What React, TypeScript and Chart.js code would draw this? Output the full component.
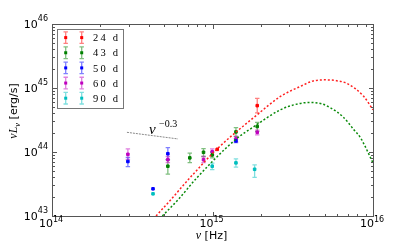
import React, { useEffect, useRef } from 'react';
import { Chart, registerables } from 'chart.js';
Chart.register(...registerables);

// ---- data ----
const epochs = ['24 d', '43 d', '50 d', '60 d', '90 d'];
const colors = ['#ff0000', '#008000', '#0000ff', '#bf00bf', '#00bfbf'];

const nu24 = [1.07e15, 1.9e15];
const L24 = [1.1e44, 5.3e44];
const lo24 = [1.1e44, 4.1e44];
const hi24 = [1.1e44, 6.9e44];

const nu43 = [5.27e14, 7.22e14, 8.79e14, 9.96e14, 1.4e15, 1.9e15];
const L43 = [6.0e43, 8.1e43, 9.9e43, 9.0e43, 2.06e44, 2.5e44];
const lo43 = [4.5e43, 6.8e43, 8.5e43, 8.1e43, 1.75e44, 2.1e44];
const hi43 = [7.6e43, 9.6e43, 1.13e44, 1.0e44, 2.4e44, 2.9e44];

const nu50 = [2.97e14, 4.26e14, 5.27e14, 1.4e15];
const L50 = [7.1e43, 2.66e43, 9.4e43, 1.49e44];
const lo50 = [5.9e43, 2.66e43, 7.6e43, 1.4e44];
const hi50 = [8.2e43, 2.66e43, 1.17e44, 1.6e44];

const nu60 = [2.97e14, 5.27e14, 8.79e14, 9.96e14, 1.4e15, 1.9e15];
const L60 = [9.2e43, 7.6e43, 7.6e43, 1.01e44, 1.6e44, 2.03e44];
const lo60 = [7.6e43, 6.8e43, 6.8e43, 9.0e43, 1.45e44, 1.85e44];
const hi60 = [1.12e44, 8.5e43, 8.5e43, 1.12e44, 1.76e44, 2.2e44];

const nu90 = [4.26e14, 9.96e14, 1.4e15, 1.83e15];
const L90 = [2.22e43, 6.0e43, 6.76e43, 5.37e43];
const lo90 = [2.22e43, 5.3e43, 5.8e43, 4.0e43];
const hi90 = [2.22e43, 6.7e43, 7.8e43, 6.3e43];

const redCurveNu = [4.45e14, 5.52e14, 7.26e14, 1.07e15, 1.9e15, 2.65e15, 3.53e15, 4.2e15, 4.92e15, 5.8e15, 6.92e15, 8.75e15, 1e16];
const redCurveL = [1e43, 1.82e43, 3.99e43, 1.12e44, 3.83e44, 7.38e44, 1.06e45, 1.28e45, 1.34e45, 1.31e45, 1.17e45, 7.4e44, 4.57e44];

const greenCurveNu = [4.87e14, 6.13e14, 7.99e14, 1.39e15, 1.82e15, 2.65e15, 3.4e15, 4.08e15, 4.8e15, 5.44e15, 6.5e15, 7.6e15, 8.37e15, 1e16];
const greenCurveL = [1e43, 1.82e43, 3.95e43, 1.56e44, 2.51e44, 4.57e44, 5.65e44, 5.95e44, 5.65e44, 4.9e44, 3.55e44, 2.23e44, 1.66e44, 6.76e43];

const slopeNu = [2.93e14, 6.1e14];
const slopeL = [2.03e44, 1.6e44];

const xTickExps = [14, 15, 16];
const yTickExps = [43, 44, 45, 46];

const groups = [
  { nu: nu24, L: L24, lo: lo24, hi: hi24 },
  { nu: nu43, L: L43, lo: lo43, hi: hi43 },
  { nu: nu50, L: L50, lo: lo50, hi: hi50 },
  { nu: nu60, L: L60, lo: lo60, hi: hi60 },
  { nu: nu90, L: L90, lo: lo90, hi: hi90 },
];

const SANS = '"DejaVu Sans", sans-serif';
const SERIF = '"Liberation Serif", "DejaVu Serif", serif';

function drawErr(ctx: CanvasRenderingContext2D, x: number, y1: number, y2: number, cap: number) {
  ctx.beginPath();
  ctx.moveTo(x, y1); ctx.lineTo(x, y2);
  ctx.moveTo(x - cap, y1); ctx.lineTo(x + cap, y1);
  ctx.moveTo(x - cap, y2); ctx.lineTo(x + cap, y2);
  ctx.stroke();
}

const errPlugin = {
  id: 'errbars',
  beforeDatasetsDraw(chart: any) {
    const ctx = chart.ctx as CanvasRenderingContext2D;
    const xs = chart.scales.x, ys = chart.scales.y;
    ctx.save();
    groups.forEach((g, gi) => {
      ctx.strokeStyle = colors[gi];
      ctx.globalAlpha = 0.5;
      ctx.lineWidth = 1.3;
      g.nu.forEach((n, i) => {
        const px = xs.getPixelForValue(n);
        const y1 = ys.getPixelForValue(g.lo[i]);
        const y2 = ys.getPixelForValue(g.hi[i]);
        if (Math.abs(y1 - y2) < 1) return;
        drawErr(ctx, px, y1, y2, 2.2);
      });
    });
    ctx.restore();
  },
};

function drawPow(ctx: CanvasRenderingContext2D, x: number, baseY: number, expY: number, exp: string, align: 'right' | 'center') {
  ctx.font = `11px ${SANS}`;
  const wb = ctx.measureText('10').width;
  ctx.font = `8px ${SANS}`;
  const we = ctx.measureText(exp).width;
  const total = wb + we;
  const left = align === 'right' ? x - total : x - total / 2;
  ctx.textAlign = 'left';
  ctx.textBaseline = 'alphabetic';
  ctx.font = `11px ${SANS}`;
  ctx.fillText('10', left, baseY);
  ctx.font = `8px ${SANS}`;
  ctx.fillText(exp, left + wb, expY);
}

const framePlugin = {
  id: 'frame',
  afterDatasetsDraw(chart: any) {
    const ctx = chart.ctx as CanvasRenderingContext2D;
    const xs = chart.scales.x, ys = chart.scales.y;
    const { left, right, top, bottom } = chart.chartArea;
    ctx.save();
    ctx.strokeStyle = '#555';
    ctx.lineWidth = 1;
    ctx.strokeRect(left + 0.5, top + 0.5, right - left, bottom - top);
    // ticks
    ctx.beginPath();
    for (let d = 14; d <= 16; d++) {
      for (let m = 1; m <= 9; m++) {
        const v = m * Math.pow(10, d);
        if (v > 1e16 * 1.0001) continue;
        const px = Math.round(xs.getPixelForValue(v)) + 0.5;
        const len = m === 1 ? 4 : 2;
        ctx.moveTo(px, bottom); ctx.lineTo(px, bottom - len);
        ctx.moveTo(px, top + 1); ctx.lineTo(px, top + 1 + len);
      }
    }
    for (let d = 43; d <= 46; d++) {
      for (let m = 1; m <= 9; m++) {
        const v = m * Math.pow(10, d);
        if (v > 1e46 * 1.0001) continue;
        const py = Math.round(ys.getPixelForValue(v)) + 0.5;
        const len = m === 1 ? 4 : 2;
        ctx.moveTo(left + 1, py); ctx.lineTo(left + 1 + len, py);
        ctx.moveTo(right, py); ctx.lineTo(right - len, py);
      }
    }
    ctx.stroke();

    // tick labels
    ctx.fillStyle = '#000';
    yTickExps.forEach((e) => {
      const py = ys.getPixelForValue(Math.pow(10, e));
      drawPow(ctx, left - 4, py + 4.3, py - 3.3, String(e), 'right');
    });
    xTickExps.forEach((e) => {
      const px = xs.getPixelForValue(Math.pow(10, e));
      drawPow(ctx, px - 1, bottom + 11, bottom + 6, String(e), 'center');
    });

    // x title
    ctx.font = `italic 12px ${SERIF}`;
    const wnu = ctx.measureText('ν').width;
    ctx.font = `11px ${SANS}`;
    const whz = ctx.measureText(' [Hz]').width;
    const sx = 211.5 - (wnu + whz) / 2;
    ctx.font = `italic 12px ${SERIF}`;
    ctx.fillText('ν', sx, 238.5);
    ctx.font = `11px ${SANS}`;
    ctx.fillText(' [Hz]', sx + wnu, 238.5);

    // y title (rotated)
    ctx.save();
    ctx.translate(17, 111);
    ctx.rotate(-Math.PI / 2);
    ctx.font = `italic 12px ${SERIF}`;
    const w1 = ctx.measureText('νL').width;
    ctx.font = `italic 8.5px ${SERIF}`;
    const w2 = ctx.measureText('ν').width;
    ctx.font = `11px ${SANS}`;
    const w3 = ctx.measureText(' [erg/s]').width;
    const tx = -(w1 + w2 + w3) / 2;
    ctx.font = `italic 12px ${SERIF}`;
    ctx.fillText('νL', tx, 0);
    ctx.font = `italic 8.5px ${SERIF}`;
    ctx.fillText('ν', tx + w1, 2.5);
    ctx.font = `11px ${SANS}`;
    ctx.fillText(' [erg/s]', tx + w1 + w2, 0);
    ctx.restore();

    // slope annotation
    ctx.font = `italic 15px ${SERIF}`;
    ctx.fillText('ν', 149, 134);
    ctx.font = `10px ${SERIF}`;
    ctx.fillText('−0.3', 159, 127);

    // legend
    ctx.fillStyle = '#fff';
    ctx.fillRect(57.5, 29.5, 66, 79);
    ctx.strokeStyle = '#777';
    ctx.lineWidth = 1;
    ctx.strokeRect(57.5, 29.5, 66, 79);
    epochs.forEach((lab, i) => {
      const cy = 37.6 + i * 15.15;
      [65.7, 81.7].forEach((mx) => {
        ctx.strokeStyle = colors[i];
        ctx.globalAlpha = 0.5;
        ctx.lineWidth = 1.3;
        drawErr(ctx, mx, cy - 5.8, cy + 5.8, 2.2);
        ctx.globalAlpha = 1;
        ctx.fillStyle = colors[i];
        ctx.fillRect(mx - 1.5, cy - 1.5, 3, 3);
      });
      ctx.fillStyle = '#000';
      ctx.font = `10.5px ${SERIF}`;
      (ctx as any).letterSpacing = '2.2px';
      ctx.fillText(lab, 93, cy + 3.6);
      (ctx as any).letterSpacing = '0px';
    });
    ctx.restore();
  },
};

export default function App() {
  const ref = useRef<HTMLCanvasElement>(null);
  useEffect(() => {
    if (!ref.current) return;
    const pts = (nu: number[], L: number[]) => nu.map((n, i) => ({ x: n, y: L[i] }));
    const scatterSets = groups.map((g, i) => ({
      type: 'line' as const,
      label: epochs[i],
      data: pts(g.nu, g.L),
      showLine: false,
      pointStyle: 'rect' as const,
      pointRadius: 1.8,
      borderWidth: 1,
      borderColor: colors[i],
      backgroundColor: colors[i],
    }));
    const chart = new Chart(ref.current, {
      type: 'line',
      data: {
        datasets: [
          {
            label: 'redCurve',
            data: pts(redCurveNu, redCurveL),
            borderColor: '#ff2020',
            borderWidth: 1.5,
            borderDash: [2, 2],
            pointRadius: 0,
            cubicInterpolationMode: 'monotone',
          },
          {
            label: 'greenCurve',
            data: pts(greenCurveNu, greenCurveL),
            borderColor: '#0a8a0a',
            borderWidth: 1.5,
            borderDash: [2, 2],
            pointRadius: 0,
            cubicInterpolationMode: 'monotone',
          },
          {
            label: 'slope',
            data: pts(slopeNu, slopeL),
            borderColor: '#888',
            borderWidth: 1,
            borderDash: [2, 1],
            pointRadius: 0,
          },
          ...scatterSets,
        ] as any,
      },
      options: {
        animation: false,
        responsive: false,
        devicePixelRatio: 1,
        layout: { padding: { left: 52, right: 42, top: 24, bottom: 26 } },
        plugins: { legend: { display: false }, tooltip: { enabled: false } },
        scales: {
          x: { type: 'logarithmic', min: 1e14, max: 1e16, display: false },
          y: { type: 'logarithmic', min: 1e43, max: 1e46, display: false },
        },
      } as any,
      plugins: [errPlugin, framePlugin],
    });
    return () => chart.destroy();
  }, []);
  return (
    <div style={{ position: 'absolute', left: 0, top: 0, width: 415, height: 242, background: '#fff' }}>
      <canvas ref={ref} width={415} height={242} style={{ display: 'block' }} />
    </div>
  );
}
